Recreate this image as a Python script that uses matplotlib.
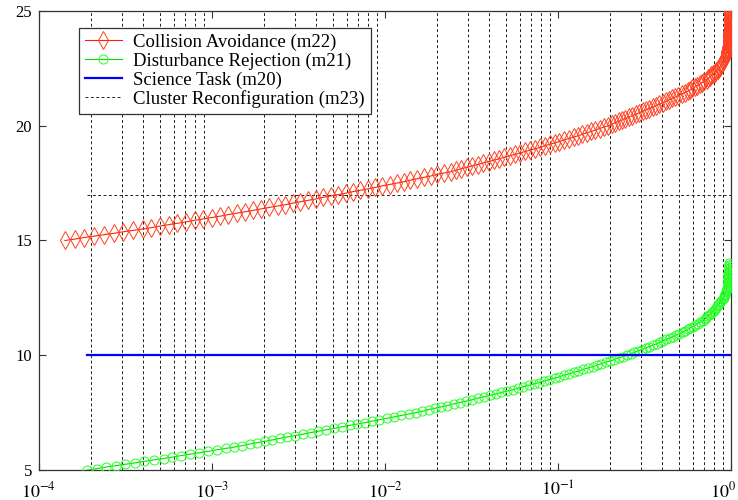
import numpy as np
import matplotlib
matplotlib.use('Agg')
import matplotlib.pyplot as plt
from matplotlib.ticker import NullLocator
from matplotlib.transforms import ScaledTranslation

plt.rcParams['font.family'] = ['Liberation Serif', 'DejaVu Serif']
plt.rcParams['mathtext.fontset'] = 'stix'

# Collision Avoidance (m22): y values and log10(x)
red_y = [
    15.00, 15.06, 15.13, 15.19, 15.25, 15.31, 15.38, 15.44,
    15.50, 15.56, 15.63, 15.69, 15.75, 15.81, 15.88, 15.94,
    16.00, 16.06, 16.13, 16.19, 16.25, 16.31, 16.38, 16.44,
    16.50, 16.56, 16.63, 16.69, 16.75, 16.81, 16.88, 16.94,
    17.00, 17.06, 17.13, 17.19, 17.25, 17.31, 17.38, 17.44,
    17.50, 17.56, 17.63, 17.69, 17.75, 17.81, 17.88, 17.94,
    18.00, 18.06, 18.13, 18.19, 18.25, 18.31, 18.38, 18.44,
    18.50, 18.56, 18.63, 18.69, 18.75, 18.81, 18.88, 18.94,
    19.00, 19.06, 19.13, 19.19, 19.25, 19.31, 19.38, 19.44,
    19.50, 19.56, 19.63, 19.69, 19.75, 19.81, 19.88, 19.94,
    20.00, 20.06, 20.13, 20.19, 20.25, 20.31, 20.38, 20.44,
    20.50, 20.56, 20.63, 20.69, 20.75, 20.81, 20.88, 20.94,
    21.00, 21.06, 21.13, 21.19, 21.25, 21.31, 21.38, 21.44,
    21.50, 21.56, 21.63, 21.69, 21.75, 21.81, 21.88, 21.94,
    22.00, 22.06, 22.13, 22.19, 22.25, 22.31, 22.38, 22.44,
    22.50, 22.56, 22.63, 22.69, 22.75, 22.81, 22.88, 22.94,
    23.00, 23.06, 23.13, 23.19, 23.25, 23.31, 23.38, 23.44,
    23.50, 23.56, 23.63, 23.69, 23.75, 23.81, 23.88, 23.94,
    24.00, 24.06, 24.13, 24.19, 24.25, 24.31, 24.38, 24.44,
    24.50, 24.56, 24.63, 24.69, 24.75, 24.81, 24.88, 24.94,
    25.00]
red_logx = [
    -3.850, -3.794, -3.738, -3.681, -3.625, -3.569, -3.513, -3.456,
    -3.400, -3.350, -3.300, -3.250, -3.200, -3.150, -3.100, -3.050,
    -3.000, -2.953, -2.905, -2.858, -2.810, -2.763, -2.715, -2.668,
    -2.620, -2.576, -2.533, -2.489, -2.445, -2.401, -2.358, -2.314,
    -2.270, -2.228, -2.185, -2.143, -2.100, -2.058, -2.015, -1.973,
    -1.930, -1.891, -1.853, -1.814, -1.775, -1.736, -1.698, -1.659,
    -1.620, -1.589, -1.558, -1.526, -1.495, -1.464, -1.433, -1.401,
    -1.370, -1.340, -1.310, -1.280, -1.250, -1.220, -1.190, -1.160,
    -1.130, -1.103, -1.075, -1.048, -1.020, -0.993, -0.965, -0.938,
    -0.910, -0.885, -0.860, -0.835, -0.810, -0.785, -0.760, -0.735,
    -0.710, -0.690, -0.670, -0.650, -0.630, -0.610, -0.590, -0.570,
    -0.550, -0.531, -0.511, -0.492, -0.473, -0.453, -0.434, -0.414,
    -0.395, -0.377, -0.359, -0.341, -0.323, -0.304, -0.286, -0.268,
    -0.250, -0.236, -0.223, -0.209, -0.195, -0.181, -0.168, -0.154,
    -0.140, -0.131, -0.122, -0.113, -0.104, -0.095, -0.086, -0.077,
    -0.068, -0.064, -0.059, -0.055, -0.050, -0.046, -0.041, -0.037,
    -0.032, -0.030, -0.029, -0.027, -0.026, -0.024, -0.022, -0.021,
    -0.019, -0.019, -0.018, -0.018, -0.017, -0.017, -0.016, -0.016,
    -0.015, -0.015, -0.015, -0.014, -0.014, -0.014, -0.014, -0.013,
    -0.013, -0.013, -0.013, -0.013, -0.013, -0.012, -0.012, -0.012,
    -0.012]

# Disturbance Rejection (m21)
green_y = [
    5.00, 5.06, 5.13, 5.19, 5.25, 5.31, 5.38, 5.44,
    5.50, 5.56, 5.63, 5.69, 5.75, 5.81, 5.88, 5.94,
    6.00, 6.06, 6.13, 6.19, 6.25, 6.31, 6.38, 6.44,
    6.50, 6.56, 6.63, 6.69, 6.75, 6.81, 6.88, 6.94,
    7.00, 7.06, 7.13, 7.19, 7.25, 7.31, 7.38, 7.44,
    7.50, 7.56, 7.63, 7.69, 7.75, 7.81, 7.88, 7.94,
    8.00, 8.06, 8.13, 8.19, 8.25, 8.31, 8.38, 8.44,
    8.50, 8.56, 8.63, 8.69, 8.75, 8.81, 8.88, 8.94,
    9.00, 9.06, 9.13, 9.19, 9.25, 9.31, 9.38, 9.44,
    9.50, 9.56, 9.63, 9.69, 9.75, 9.81, 9.88, 9.94,
    10.00, 10.06, 10.13, 10.19, 10.25, 10.31, 10.38, 10.44,
    10.50, 10.56, 10.63, 10.69, 10.75, 10.81, 10.88, 10.94,
    11.00, 11.06, 11.13, 11.19, 11.25, 11.31, 11.38, 11.44,
    11.50, 11.56, 11.63, 11.69, 11.75, 11.81, 11.88, 11.94,
    12.00, 12.06, 12.13, 12.19, 12.25, 12.31, 12.38, 12.44,
    12.50, 12.56, 12.63, 12.69, 12.75, 12.81, 12.88, 12.94,
    13.00, 13.06, 13.13, 13.19, 13.25, 13.31, 13.38, 13.44,
    13.50, 13.56, 13.63, 13.69, 13.75, 13.81, 13.88, 13.94,
    14.00]
green_logx = [
    -3.720, -3.665, -3.610, -3.555, -3.500, -3.445, -3.390, -3.335,
    -3.280, -3.229, -3.178, -3.126, -3.075, -3.024, -2.973, -2.921,
    -2.870, -2.826, -2.783, -2.739, -2.695, -2.651, -2.608, -2.564,
    -2.520, -2.475, -2.430, -2.385, -2.340, -2.295, -2.250, -2.205,
    -2.160, -2.118, -2.075, -2.033, -1.990, -1.948, -1.905, -1.863,
    -1.820, -1.784, -1.748, -1.711, -1.675, -1.639, -1.603, -1.566,
    -1.530, -1.496, -1.463, -1.429, -1.395, -1.361, -1.328, -1.294,
    -1.260, -1.230, -1.200, -1.170, -1.140, -1.110, -1.080, -1.050,
    -1.020, -0.993, -0.965, -0.938, -0.910, -0.883, -0.855, -0.828,
    -0.800, -0.775, -0.750, -0.725, -0.700, -0.675, -0.650, -0.625,
    -0.600, -0.579, -0.558, -0.536, -0.515, -0.494, -0.473, -0.451,
    -0.430, -0.411, -0.393, -0.374, -0.355, -0.336, -0.318, -0.299,
    -0.280, -0.265, -0.251, -0.236, -0.221, -0.206, -0.192, -0.177,
    -0.162, -0.153, -0.145, -0.136, -0.127, -0.118, -0.110, -0.101,
    -0.092, -0.086, -0.080, -0.074, -0.067, -0.061, -0.055, -0.049,
    -0.043, -0.040, -0.037, -0.034, -0.031, -0.028, -0.025, -0.022,
    -0.019, -0.019, -0.018, -0.018, -0.017, -0.017, -0.016, -0.016,
    -0.015, -0.015, -0.014, -0.014, -0.014, -0.013, -0.013, -0.012,
    -0.012]

# Science Task (m20)
sci_x = [1.9e-4, 1.0]
sci_y = [10, 10]

# Cluster Reconfiguration (m23)
m23_x = [1.9e-4, 1.0]
m23_y = [17, 17]
m23_vx = [2e-4, 3e-4, 4e-4, 5e-4, 6e-4, 7e-4, 8e-4, 9e-4,
          2e-3, 3e-3, 4e-3, 5e-3, 6e-3, 7e-3, 8e-3, 9e-3,
          2e-2, 3e-2, 4e-2, 5e-2, 6e-2, 7e-2, 8e-2, 9e-2,
          2e-1, 3e-1, 4e-1, 5e-1, 6e-1, 7e-1, 8e-1, 9e-1]

xticks = [1e-4, 1e-3, 1e-2, 1e-1, 1]
xticklabels = ['$10^{-4}$', '$10^{-3}$', '$10^{-2}$', '$10^{-1}$', '$10^{0}$']
yticks = [5, 10, 15, 20, 25]

fig = plt.figure(figsize=(7.38, 5), dpi=100)
ax = fig.add_axes([0.0528, 0.06, 0.9377, 0.918])

dash = (3, 2.5)
ax.vlines(m23_vx, 5, 25, colors='#222222', linewidth=0.7,
          linestyles=[(0, dash)], zorder=1)
ax.plot(10 ** np.array(red_logx), red_y, color='#ff2200', lw=0.8,
        marker='d', ms=9, mfc='none', mec='#ff4020', mew=0.7,
        label='Collision Avoidance (m22)', zorder=3)
ax.plot(10 ** np.array(green_logx), green_y, color='#00e000', lw=0.8,
        marker='o', ms=6.5, mfc='none', mec='#22ff22', mew=0.7,
        label='Disturbance Rejection (m21)', zorder=3)
ax.plot(sci_x, sci_y, color='#0000ff', lw=1.6, label='Science Task (m20)', zorder=4)
ax.plot(m23_x, m23_y, color='#222222', lw=0.7, dashes=dash,
        label='Cluster Reconfiguration (m23)', zorder=2)

ax.set_xscale('log')
ax.set_xlim(1e-4, 1)
ax.set_ylim(5, 25)
ax.set_xticks(xticks)
ax.set_xticklabels(xticklabels, fontsize=13)
ax.xaxis.set_minor_locator(NullLocator())
ax.set_yticks(yticks)
ax.set_yticklabels([str(v) for v in yticks], fontsize=12)
ax.tick_params(direction='in', length=5, width=0.8, top=True, right=True,
               color='#333333')
ax.tick_params(axis='x', pad=8)
ax.tick_params(axis='y', pad=5)
for s in ax.spines.values():
    s.set_color('#333333')
    s.set_linewidth(0.9)

# keep the last x label inside the figure
last = ax.get_xticklabels()[-1]
last.set_transform(last.get_transform() + ScaledTranslation(-0.08, 0, fig.dpi_scale_trans))

leg = ax.legend(loc='upper left', bbox_to_anchor=(0.058, 0.963),
                fontsize=13.5, numpoints=1, handlelength=2.0,
                handletextpad=0.6, labelspacing=0.08, borderpad=0.3,
                fancybox=False, framealpha=1, edgecolor='#333333',
                borderaxespad=0)
leg.get_frame().set_linewidth(0.9)

fig.savefig('out.png', dpi=100)
